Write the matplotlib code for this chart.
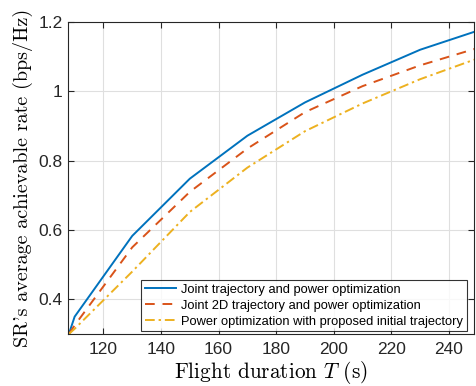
import matplotlib
matplotlib.use("Agg")
import matplotlib.pyplot as plt

plt.rcParams['mathtext.fontset'] = 'cm'
plt.rcParams['font.family'] = ['Liberation Sans', 'DejaVu Sans']

T = [108, 110, 130, 150, 170, 190, 210, 230, 250]
rate_joint = [0.30, 0.35, 0.583, 0.748, 0.872, 0.968, 1.048, 1.12, 1.175]
rate_2d = [0.30, 0.325, 0.55, 0.71, 0.835, 0.94, 1.015, 1.075, 1.125]
rate_power = [0.30, 0.315, 0.48, 0.652, 0.78, 0.885, 0.965, 1.035, 1.095]

labels = ['Joint trajectory and power optimization',
          'Joint 2D trajectory and power optimization',
          'Power optimization with proposed initial trajectory']

fig = plt.figure(figsize=(4.76, 3.86), dpi=100)
ax = fig.add_axes([0.1429, 0.1347, 0.8529, 0.8083])

ax.plot(T, rate_joint, '-', color='#0072BD', lw=1.4, label=labels[0])
ax.plot(T, rate_2d, '--', color='#D95319', lw=1.4, dashes=(5, 4), label=labels[1])
ax.plot(T, rate_power, '-.', color='#EDB120', lw=1.4, dashes=(5, 2, 1.2, 2), label=labels[2])

ax.set_xlim(107.7, 248.7)
ax.set_ylim(0.3, 1.2)
ax.set_xticks([120, 140, 160, 180, 200, 220, 240])
ax.set_yticks([0.4, 0.6, 0.8, 1.0, 1.2])
ax.set_yticklabels(['0.4', '0.6', '0.8', '1', '1.2'])

ax.grid(True, color='#dfdfdf', lw=0.8)
ax.set_axisbelow(True)
for s in ax.spines.values():
    s.set_color('#262626')
    s.set_linewidth(0.8)
ax.tick_params(direction='in', length=4, width=0.8, colors='#262626',
               labelsize=12.5, top=True, right=True)
ax.tick_params(axis='x', pad=6)
ax.tick_params(axis='y', pad=4)

serif = ['cmr10', 'DejaVu Serif']
ax.set_xlabel('Flight duration $T$ (s)', family=serif, fontsize=15.3, labelpad=1)
ax.set_ylabel("SR's average achievable rate (bps/Hz)", family=serif,
              fontsize=14.5, labelpad=4)

leg = ax.legend(loc='lower right', bbox_to_anchor=(0.99, 0.0), fontsize=9.3,
                frameon=True, fancybox=False, edgecolor='black',
                handlelength=2.4, handletextpad=0.4, labelspacing=0.3,
                borderpad=0.3, borderaxespad=0.2)
leg.get_frame().set_linewidth(0.8)

fig.savefig('out.png', dpi=100)
